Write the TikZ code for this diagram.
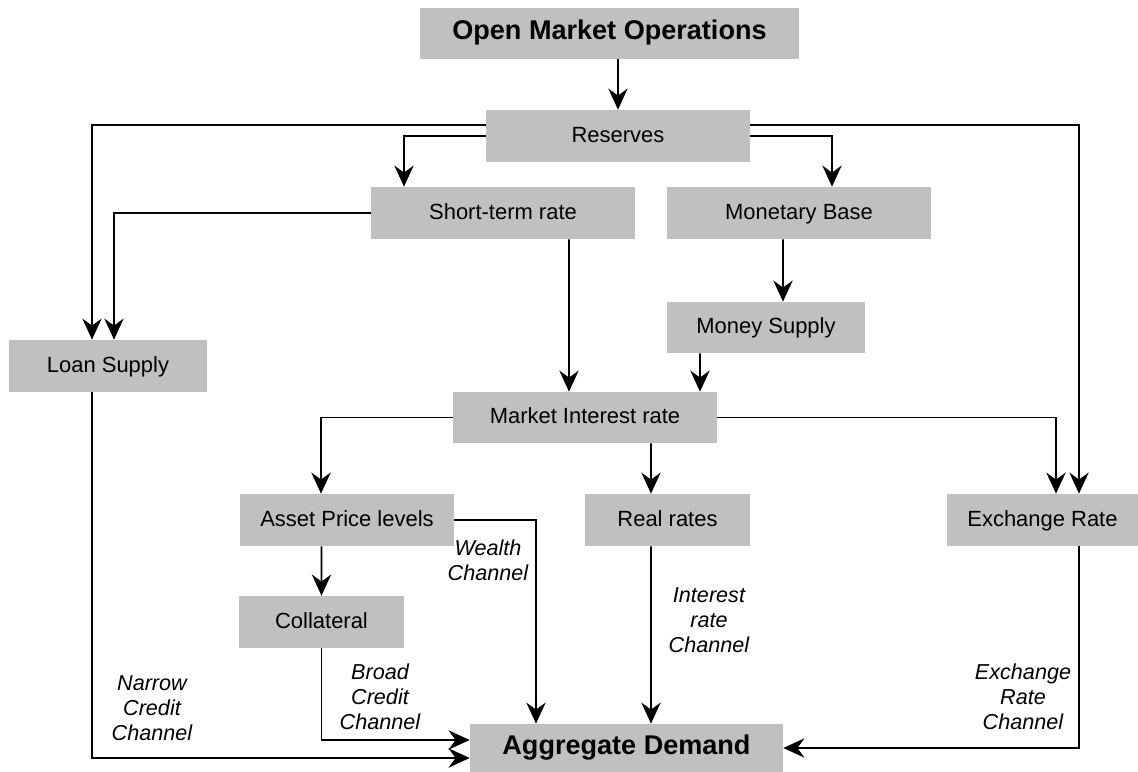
\documentclass[tikz,border=0pt]{standalone}
\usepackage{fontspec}
\setmainfont{Liberation Sans}
\usetikzlibrary{arrows.meta}
\definecolor{boxgray}{RGB}{192,192,192}
\tikzset{
  box/.style={fill=boxgray, inner sep=0pt, text height=0.72em, text depth=0pt,
    font=\fontsize{12.5}{14}\selectfont},
  bigbox/.style={box, font=\fontsize{15.4}{18}\selectfont\bfseries},
  arr/.style={-{Stealth[length=12pt,width=11pt,inset=4pt]}, line width=1pt},
  chan/.style={align=center, inner sep=0pt, font=\fontsize{12.3}{14.2}\selectfont\itshape},
}
\begin{document}
\begin{tikzpicture}[x=0.2mm,y=-0.2mm]
  \useasboundingbox (0,0) rectangle (1138,772);
  % boxes
  \node[bigbox, minimum width=75.8mm, minimum height=10.2mm] (omo) at (609.5,33.5) {Open Market Operations};
  \node[box, minimum width=52.8mm, minimum height=10.4mm] (reserves) at (618,136) {Reserves};
  \node[box, minimum width=52.8mm, minimum height=10.4mm] (shortrate) at (503,213) {Short-term rate};
  \node[box, minimum width=52.8mm, minimum height=10.4mm] (base) at (799,213) {Monetary Base};
  \node[box, minimum width=39.6mm, minimum height=10.2mm] (money) at (766,327.5) {Money Supply};
  \node[box, minimum width=39.6mm, minimum height=10.4mm] (loan) at (108,366) {Loan Supply};
  \node[box, minimum width=52.8mm, minimum height=10.2mm] (market) at (585,417.5) {Market Interest rate};
  \node[box, minimum width=42.8mm, minimum height=10.4mm] (asset) at (347,520) {Asset Price levels};
  \node[box, minimum width=33mm, minimum height=10.4mm] (real) at (667.5,520) {Real rates};
  \node[box, minimum width=38.2mm, minimum height=10.4mm] (exchange) at (1042.5,520) {Exchange Rate};
  \node[box, minimum width=33mm, minimum height=10.4mm] (collateral) at (321.5,622) {Collateral};
  \node[bigbox, minimum width=62.6mm, minimum height=9.6mm] (demand) at (626.5,748) {Aggregate Demand};

  % channel labels
  \node[chan] (wealth) at (488,560) {Wealth\\Channel};
  \node[chan] (intchan) at (709,620) {Interest\\rate\\Channel};
  \node[chan] (broad) at (380,697) {Broad\\Credit\\Channel};
  \node[chan] (narrow) at (152,708) {Narrow\\Credit\\Channel};
  \node[chan] (exchchan) at (1023,697) {Exchange\\Rate\\Channel};

  % connectors
  \draw[arr] (omo.south -| reserves) -- (reserves);
  \draw[arr] ([yshift=2.2mm]reserves.west) -| ([xshift=-3.2mm]loan.north);
  \draw[arr] (reserves.west) -| ([xshift=-19.8mm]shortrate.north);
  \draw[arr] ([yshift=2.2mm]reserves.east) -| ([xshift=7.3mm]exchange.north);
  \draw[arr] (reserves.east) -| ([xshift=6.6mm]base.north);
  \draw[arr] (shortrate.west) -| ([xshift=1.2mm]loan.north);
  \draw[arr] ([xshift=13.2mm]shortrate.south) -- ([xshift=-3.2mm]market.north);
  \draw[arr] ([xshift=-3.2mm]base.south) -- ([xshift=3.4mm]money.north);
  \draw[arr] ([xshift=-13.2mm]money.south) -- ([xshift=23mm]market.north);
  \draw[arr] (market.west) -| ([xshift=-5.2mm]asset.north);
  \draw[arr] (market.east) -| ([xshift=2.7mm]exchange.north);
  \draw[arr] ([xshift=13.2mm]market.south) -- ([xshift=-3.3mm]real.north);
  \draw[arr] ([xshift=-5.1mm]asset.south) -- (collateral.north);
  \draw[arr] (asset.east) -| ([xshift=-18.1mm]demand.north);
  \draw[arr] ([xshift=-3.3mm]real.south) -- ([xshift=4.9mm]demand.north);
  \draw[arr] (collateral.south) |- ([yshift=1.6mm]demand.west);
  \draw[arr] ([xshift=-3.2mm]loan.south) |- ([yshift=-2mm]demand.west);
  \draw[arr] ([xshift=7.3mm]exchange.south) |- (demand.east);
\end{tikzpicture}
\end{document}
